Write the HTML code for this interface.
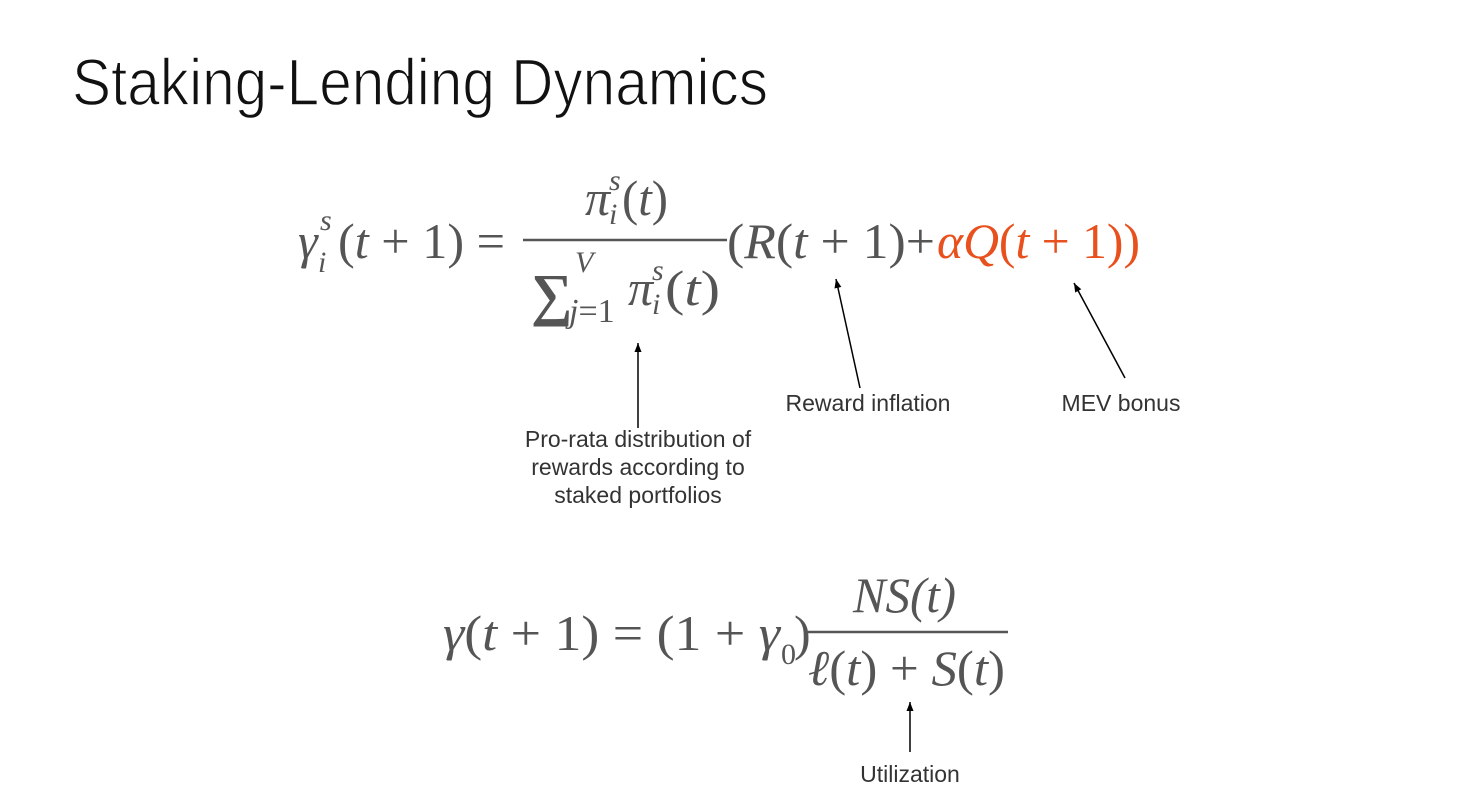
<!DOCTYPE html>
<html><head><style>body{margin:0;background:#fff}svg{display:block}</style></head><body>
<svg width="1457" height="800" xmlns="http://www.w3.org/2000/svg">
<defs><marker id="a" markerWidth="10" markerHeight="10" refX="9" refY="5" orient="auto" markerUnits="userSpaceOnUse"><path d="M0,1.5 L9,5 L0,8.5 z" fill="#000"/></marker></defs>
<text x="72" y="105" font-family="Liberation Sans, sans-serif" font-size="66" fill="#111" stroke="#fff" stroke-width="1.4" textLength="696" lengthAdjust="spacingAndGlyphs">Staking-Lending Dynamics</text>
<g font-family="Liberation Serif, serif" fill="#555">
<text x="298" y="258" font-size="50" font-style="italic">γ</text>
<text x="318" y="272" font-size="30" font-style="italic">i</text>
<text x="320" y="230" font-size="30" font-style="italic">s</text>
<text x="338" y="258" font-size="50" textLength="167" lengthAdjust="spacingAndGlyphs">(<tspan font-style="italic">t</tspan> + 1) =</text>
<line x1="523" y1="240" x2="727" y2="240" stroke="#555" stroke-width="2.5"/>
<text x="585" y="215" font-size="50" font-style="italic">π</text>
<text x="609" y="190" font-size="30" font-style="italic">s</text>
<text x="609" y="224" font-size="30" font-style="italic">i</text>
<text x="622" y="215" font-size="50" textLength="46" lengthAdjust="spacingAndGlyphs">(<tspan font-style="italic">t</tspan>)</text>
<text x="531" y="314" font-size="58" font-weight="bold">∑</text>
<text x="575" y="272" font-size="30" font-style="italic">V</text>
<text x="569" y="322" font-size="34"><tspan font-style="italic">j</tspan>=1</text>
<text x="628" y="305" font-size="50" font-style="italic">π</text>
<text x="652" y="280" font-size="30" font-style="italic">s</text>
<text x="652" y="314" font-size="30" font-style="italic">i</text>
<text x="665" y="305" font-size="50" textLength="55" lengthAdjust="spacingAndGlyphs">(<tspan font-style="italic">t</tspan>)</text>
<text x="727" y="258" font-size="50" textLength="208" lengthAdjust="spacingAndGlyphs">(<tspan font-style="italic">R</tspan>(<tspan font-style="italic">t</tspan> + 1)+</text>
<text x="937" y="258" font-size="50" fill="#e8501e" textLength="203" lengthAdjust="spacingAndGlyphs"><tspan font-style="italic">αQ</tspan>(<tspan font-style="italic">t</tspan> + 1))</text>

<text x="443" y="650" font-size="50" textLength="337" lengthAdjust="spacingAndGlyphs"><tspan font-style="italic">γ</tspan>(<tspan font-style="italic">t</tspan> + 1) = (1 + <tspan font-style="italic">γ</tspan></text>
<text x="781" y="664" font-size="30">0</text>
<text x="794" y="650" font-size="50">)</text>
<line x1="808" y1="632" x2="1008" y2="632" stroke="#555" stroke-width="2.5"/>
<text x="853" y="612" font-size="50" font-style="italic" textLength="103" lengthAdjust="spacingAndGlyphs">NS(t)</text>
<text x="808" y="685" font-size="50" textLength="197" lengthAdjust="spacingAndGlyphs"><tspan font-style="italic">ℓ</tspan>(<tspan font-style="italic">t</tspan>) + <tspan font-style="italic">S</tspan>(<tspan font-style="italic">t</tspan>)</text>
</g>
<g stroke="#000" stroke-width="1.5" marker-end="url(#a)">
<line x1="638" y1="428" x2="638" y2="343"/>
<line x1="860" y1="388" x2="836" y2="279"/>
<line x1="1125" y1="378" x2="1074" y2="283"/>
<line x1="910" y1="752" x2="910" y2="702"/>
</g>
<g font-family="Liberation Sans, sans-serif" font-size="23" fill="#333" text-anchor="middle">
<text x="638" y="447">Pro-rata distribution of</text>
<text x="638" y="475">rewards according to</text>
<text x="638" y="503">staked portfolios</text>
<text x="868" y="411">Reward inflation</text>
<text x="1121" y="411">MEV bonus</text>
<text x="910" y="782">Utilization</text>
</g>
</svg>
</body></html>
